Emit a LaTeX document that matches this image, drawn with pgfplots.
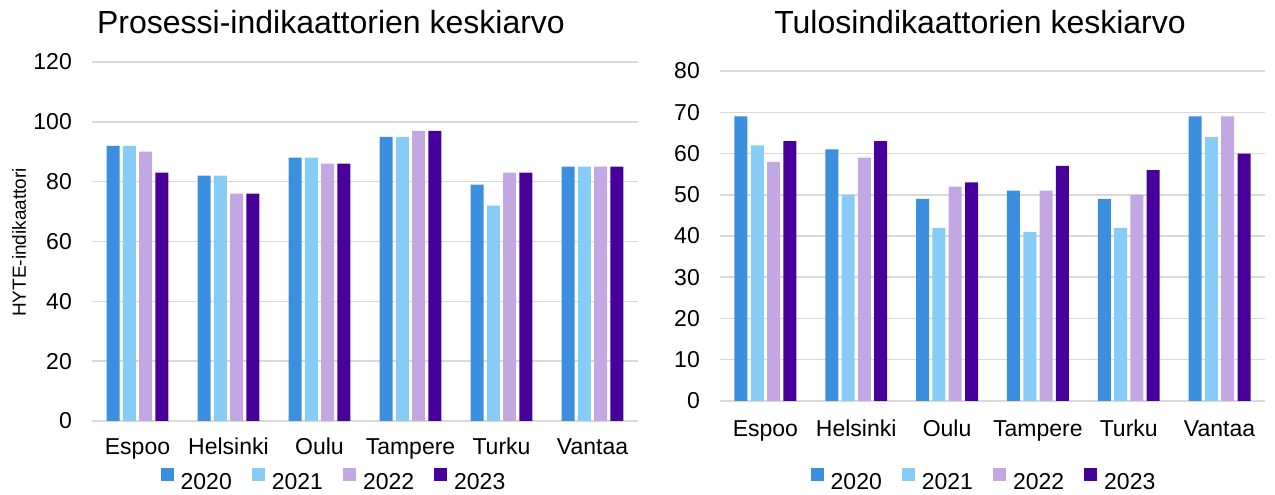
\documentclass[border=0pt]{standalone}
\usepackage{fontspec}
\setmainfont{Liberation Sans}
\usepackage{pgfplots}
\pgfplotsset{compat=1.18}
\definecolor{c2020}{HTML}{3C8EDE}
\definecolor{c2021}{HTML}{87CCF7}
\definecolor{c2022}{HTML}{C3A7E2}
\definecolor{c2023}{HTML}{48009A}
\definecolor{gridgray}{HTML}{D9D9D9}
\pgfplotsset{
  mybar/.style={
    scale only axis, ybar=3.3pt, bar width=13pt,
    xmin=-0.5, xmax=5.5, ymin=0,
    xtick={0,...,5}, xticklabels={Espoo,Helsinki,Oulu,Tampere,Turku,Vantaa},
    axis line style={draw=none}, major tick length=0pt,
    ymajorgrids, grid style={color=gridgray, line width=1.5pt},
    tick label style={font=\fontsize{23}{27}\selectfont, inner sep=0pt},
    /pgf/number format/assume math mode=true,
    yticklabel style={anchor=east, xshift=-20pt},
    legend columns=4,
    legend style={draw=none, fill=none, font=\fontsize{23}{27}\selectfont, anchor=center,
      nodes={inner sep=0pt},
      /tikz/every odd column/.append style={column sep=7pt},
      /tikz/every even column/.append style={column sep=20pt}},
    legend image code/.code={\fill[##1] (0pt,1pt) rectangle (13pt,14pt);},
    every axis plot/.append style={draw=none},
  }
}
\begin{document}
\begin{tikzpicture}
\path[use as bounding box] (0pt,0pt) rectangle (1275pt,495pt);
\begin{axis}[mybar, at={(92pt,74pt)}, anchor=south west, width=546pt, height=359pt,
  ymax=120, ytick={0,20,...,120},
  xticklabel style={anchor=base, yshift=-34pt},
  legend style={at={(0.4414,-0.163)}}]
\addplot[fill=c2020] coordinates {(0,92) (1,82) (2,88) (3,95) (4,79) (5,85)};
\addplot[fill=c2021] coordinates {(0,92) (1,82) (2,88) (3,95) (4,72) (5,85)};
\addplot[fill=c2022] coordinates {(0,90) (1,76) (2,86) (3,97) (4,83) (5,85)};
\addplot[fill=c2023] coordinates {(0,83) (1,76) (2,86) (3,97) (4,83) (5,85)};
\legend{2020,2021,2022,2023}
\end{axis}
\begin{axis}[mybar, at={(720pt,94pt)}, anchor=south west, width=545pt, height=330pt,
  ymax=80, ytick={0,10,...,80},
  xticklabel style={anchor=base, yshift=-36pt},
  legend style={at={(0.4826,-0.238)}}]
\addplot[fill=c2020] coordinates {(0,69) (1,61) (2,49) (3,51) (4,49) (5,69)};
\addplot[fill=c2021] coordinates {(0,62) (1,50) (2,42) (3,41) (4,42) (5,64)};
\addplot[fill=c2022] coordinates {(0,58) (1,59) (2,52) (3,51) (4,50) (5,69)};
\addplot[fill=c2023] coordinates {(0,63) (1,63) (2,53) (3,57) (4,56) (5,60)};
\legend{2020,2021,2022,2023}
\end{axis}
\node[font=\fontsize{32}{37}\selectfont, anchor=base] at (331pt,461pt) {Prosessi-indikaattorien keskiarvo};
\node[font=\fontsize{32}{37}\selectfont, anchor=base] at (980pt,461pt) {Tulosindikaattorien keskiarvo};
\node[rotate=90, font=\fontsize{19}{22}\selectfont] at (19pt,252.5pt) {HYTE-indikaattori};
\end{tikzpicture}
\end{document}
